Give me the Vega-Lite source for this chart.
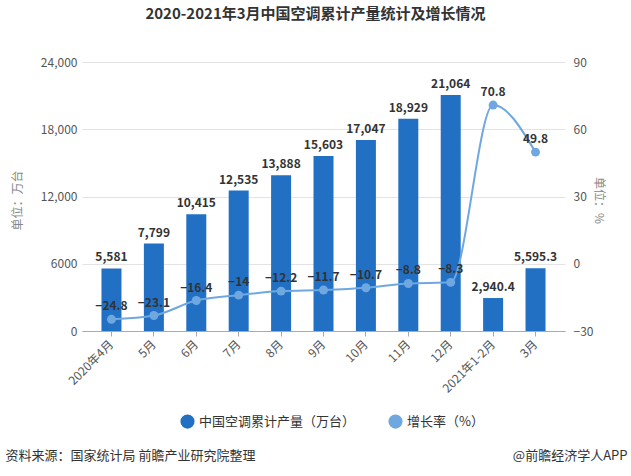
{
  "$schema": "https://vega.github.io/schema/vega-lite/v6.json",
  "width": 483,
  "height": 269,
  "autosize": {"type": "none"},
  "padding": {"left": 82, "top": 62, "right": 66, "bottom": 145},
  "background": "white",
  "config": {"font": "Noto Sans CJK SC", "view": {"stroke": null}},
  "title": {"text": "2020-2021年3月中国空调累计产量统计及增长情况", "fontSize": 15, "fontWeight": "bold", "color": "#333333", "anchor": "middle", "offset": 34, "dx": -8},
  "data": {"values": [
    {"month": "2020年4月", "prod": 5581, "rate": -24.8},
    {"month": "5月", "prod": 7799, "rate": -23.1},
    {"month": "6月", "prod": 10415, "rate": -16.4},
    {"month": "7月", "prod": 12535, "rate": -14},
    {"month": "8月", "prod": 13888, "rate": -12.2},
    {"month": "9月", "prod": 15603, "rate": -11.7},
    {"month": "10月", "prod": 17047, "rate": -10.7},
    {"month": "11月", "prod": 18929, "rate": -8.8},
    {"month": "12月", "prod": 21064, "rate": -8.3},
    {"month": "2021年1-2月", "prod": 2940.4, "rate": 70.8},
    {"month": "3月", "prod": 5595.3, "rate": 49.8}
  ]},
  "layer": [
    {
      "encoding": {
        "x": {"field": "month", "type": "nominal", "sort": null,
          "scale": {"paddingInner": 0.53, "paddingOuter": 0.46},
          "axis": {"labelAngle": -45, "labelAlign": "right", "labelBaseline": "middle", "labelFontSize": 12, "labelColor": "#555555", "labelPadding": 6,
            "ticks": true, "tickColor": "#aaaaaa", "tickSize": 5, "domainColor": "#aaaaaa",
            "title": "资料来源：国家统计局 前瞻产业研究院整理", "titleX": -77, "titleY": 124, "titleAlign": "left", "titleBaseline": "middle", "titleFontSize": 13, "titleFontWeight": "normal", "titleColor": "#333333"}},
        "y": {"field": "prod", "type": "quantitative", "scale": {"domain": [0, 24000]},
          "axis": {"values": [0, 6000, 12000, 18000, 24000], "labelExpr": "datum.value == 6000 ? '6000' : format(datum.value, ',')", "labelFontSize": 12, "labelColor": "#555555", "ticks": false, "labelPadding": 5, "domain": false, "gridColor": "#e3e3e3",
            "title": "单位：万台", "titleX": -65, "titleY": 138, "titleAngle": -90, "titleAlign": "center", "titleBaseline": "middle", "titleFontSize": 12, "titleFontWeight": "normal", "titleColor": "#888888"}}
      },
      "layer": [
        {"mark": {"type": "bar", "size": 20},
         "encoding": {"color": {"datum": "中国空调累计产量（万台）", "type": "nominal",
           "scale": {"domain": ["中国空调累计产量（万台）", "增长率（%）"], "range": ["#2170C4", "#6FA8E0"]},
           "legend": {"orient": "none", "legendX": 98, "legendY": 352, "direction": "horizontal", "symbolType": "circle", "symbolSize": 160, "labelFontSize": 13, "labelColor": "#333333", "columnPadding": 30, "title": null}}}},
        {"mark": {"type": "text", "baseline": "bottom", "dy": -4, "fontSize": 12, "fontWeight": "bold", "color": "#333333"},
         "encoding": {"text": {"field": "prod", "type": "quantitative", "format": ","}}}
      ]
    },
    {
      "encoding": {
        "x": {"field": "month", "type": "nominal", "sort": null,
          "axis": {"orient": "top", "labels": false, "ticks": false, "domain": false, "grid": false,
            "title": "@前瞻经济学人APP", "titleX": 545, "titleY": 393, "titleAlign": "right", "titleBaseline": "middle", "titleFontSize": 13, "titleFontWeight": "normal", "titleColor": "#333333"}},
        "y": {"field": "rate", "type": "quantitative", "scale": {"domain": [-30, 90]},
          "axis": {"orient": "right", "values": [-30, 0, 30, 60, 90], "labelFontSize": 12, "labelColor": "#555555", "ticks": false, "labelPadding": 8, "domain": false, "grid": false,
            "title": "单位：%", "titleX": 33, "titleY": 138, "titleAngle": 90, "titleAlign": "center", "titleBaseline": "middle", "titleFontSize": 12, "titleFontWeight": "normal", "titleColor": "#888888"}}
      },
      "layer": [
        {"mark": {"type": "line", "interpolate": "monotone", "strokeWidth": 2, "point": {"filled": true, "size": 80, "color": "#6FA8E8"}},
         "encoding": {"color": {"datum": "增长率（%）", "type": "nominal"}}},
        {"mark": {"type": "text", "baseline": "bottom", "dy": -6, "fontSize": 12, "fontWeight": "bold", "color": "#333333"},
         "encoding": {"text": {"field": "rate", "type": "quantitative", "format": ""}}}
      ]
    }
  ],
  "resolve": {"scale": {"y": "independent"}, "axis": {"x": "independent"}}
}
